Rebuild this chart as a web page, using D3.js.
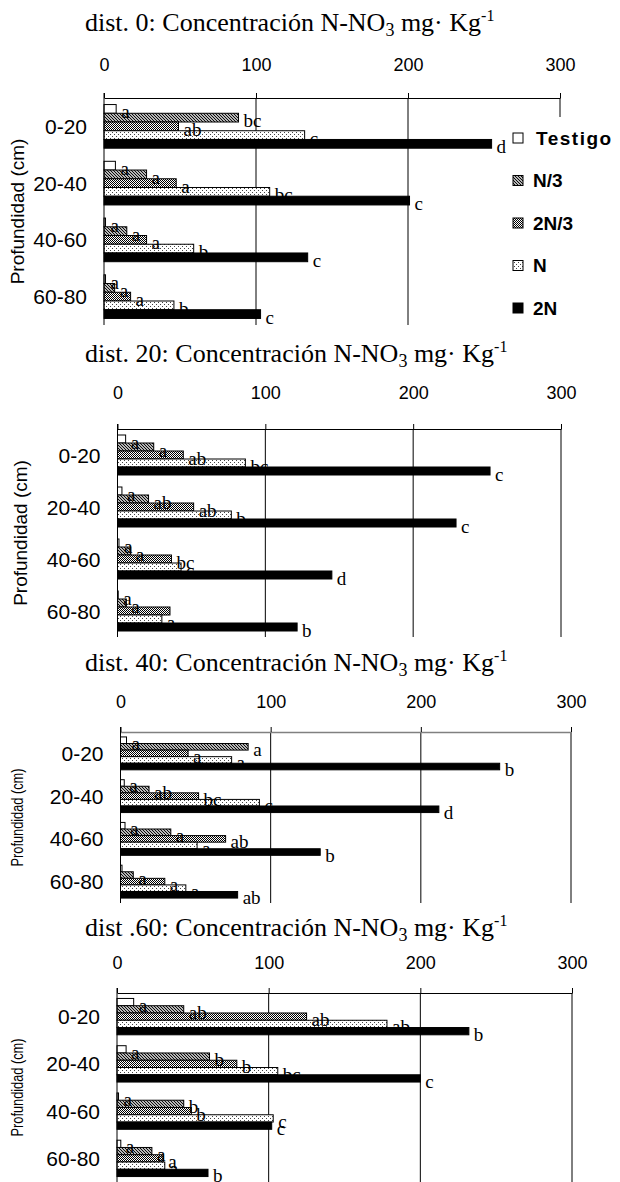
<!DOCTYPE html>
<html lang="es">
<head>
<meta charset="UTF-8">
<title>Concentración N-NO3</title>
<script src="https://d3js.org/d3.v7.min.js"></script>
<style>
  body { margin: 0; background: #fff; }
  svg text { fill: #000; }
</style>
</head>
<body>
<div id="chart"></div>
<script>
// categories and series
const depths = ["0-20", "20-40", "40-60", "60-80"];
const treatments = ["Testigo", "N/3", "2N/3", "N", "2N"];
const tickValues = [0, 100, 200, 300];
const panelNames = ["dist. 0", "dist. 20", "dist. 40", "dist .60"];

// values, one row per treatment (Testigo, N/3, 2N/3, N, 2N), one column per depth
const dist0 = [[8, 7.5, 1, 1], [88.5, 28, 15, 7], [49, 47.5, 28, 17.5], [132, 109, 59, 46], [255, 201, 134, 103]];
const dist20 = [[5.5, 3, 1, 0.5], [24.5, 21, 9, 6], [44.5, 51.5, 36.5, 35.5], [86.5, 77, 43, 30], [252, 229, 145, 121.5]];
const dist40 = [[4, 2.5, 3, 1], [85, 19, 33.5, 8.5], [45, 52, 70, 29.5], [74, 92.5, 51, 43.5], [252.5, 212, 133, 78]];
const dist60 = [[11, 6, 1, 2.5], [44, 61, 44, 23], [125, 79, 49, 30.5], [178, 106, 103, 31.5], [232, 200, 102, 60]];

// significance letters, same layout
const dist0Letters = [["a", "a", "a", "a"], ["bc", "a", "a", "a"], ["ab", "a", "a", "a"], ["c", "bc", "b", "b"], ["d", "c", "c", "c"]];
const dist20Letters = [["a", "a", "a", "a"], ["a", "ab", "a", "a"], ["ab", "ab", "bc", ""], ["bc", "b", "c", "a"], ["c", "c", "d", "b"]];
const dist40Letters = [["a", "a", "a", ""], ["a", "ab", "a", "a"], ["a", "bc", "ab", "a"], ["a", "c", "a", "a"], ["b", "d", "b", "ab"]];
const dist60Letters = [["a", "a", "a", "a"], ["ab", "b", "b", "a"], ["ab", "b", "b", "a"], ["ab", "bc", "c", "a"], ["b", "c", "c", "b"]];

const panelValues = [dist0, dist20, dist40, dist60];
const panelLetters = [dist0Letters, dist20Letters, dist40Letters, dist60Letters];

// page layout
const W = 620, H = 1182;
const layout = [
    { titleY: 31, top: 98, bottom: 325, x0: 104, x1: 560, pad: 22, axisColor: "#000", yLabelX: 18, yLabelSize: 19, yLabelLen: null },
    { titleY: 362, top: 429, bottom: 637, x0: 117.5, x1: 561, pad: 25, axisColor: "#000", yLabelX: 21, yLabelSize: 19, yLabelLen: null },
    { titleY: 671, top: 732, bottom: 903, x0: 120.5, x1: 571, pad: 19, axisColor: "#808080", yLabelX: 17, yLabelSize: 16, yLabelLen: 98 },
    { titleY: 936, top: 993, bottom: 1182, x0: 117, x1: 572, pad: 19, axisColor: "#000", yLabelX: 17, yLabelSize: 16, yLabelLen: 98 }
];

const serif = "'Times New Roman', 'Liberation Serif', serif";
const sans = "Arial, 'Liberation Sans', sans-serif";

const svg = d3.select("#chart").append("svg")
    .attr("width", W)
    .attr("height", H);

// fill patterns
const defs = svg.append("defs");

const pN3 = defs.append("pattern").attr("id", "pat-n3")
    .attr("patternUnits", "userSpaceOnUse").attr("width", 3).attr("height", 3);
pN3.append("rect").attr("width", 3).attr("height", 3).attr("fill", "#fff");
pN3.append("path").attr("d", "M-1,-1 L4,4 M-1,2 L1,4 M2,-1 L4,1")
    .attr("stroke", "#000").attr("stroke-width", 1.1);

const p2N3 = defs.append("pattern").attr("id", "pat-2n3")
    .attr("patternUnits", "userSpaceOnUse").attr("width", 2).attr("height", 2);
p2N3.append("rect").attr("width", 2).attr("height", 2).attr("fill", "#fff");
p2N3.append("rect").attr("width", 1).attr("height", 1).attr("fill", "#000");
p2N3.append("rect").attr("x", 1).attr("y", 1).attr("width", 1).attr("height", 1).attr("fill", "#000");

const pN = defs.append("pattern").attr("id", "pat-n")
    .attr("patternUnits", "userSpaceOnUse").attr("width", 4).attr("height", 4);
pN.append("rect").attr("width", 4).attr("height", 4).attr("fill", "#fff");
pN.append("rect").attr("width", 1).attr("height", 1).attr("fill", "#444");
pN.append("rect").attr("x", 2).attr("y", 2).attr("width", 1).attr("height", 1).attr("fill", "#444");

const fills = ["#fff", "url(#pat-n3)", "url(#pat-2n3)", "url(#pat-n)", "#000"];

function drawPanel(i) {
    const L = layout[i];
    const values = panelValues[i];
    const letters = panelLetters[i];
    const g = svg.append("g");

    // title
    const title = g.append("text")
        .attr("x", 85).attr("y", L.titleY)
        .style("font-family", serif).style("font-size", "26px");
    title.append("tspan").text(panelNames[i] + ": Concentración N-NO");
    title.append("tspan").attr("dy", 5).style("font-size", "18px").text("3");
    title.append("tspan").attr("dy", -5).text(" mg· Kg");
    title.append("tspan").attr("dy", -10).style("font-size", "16px").text("-1");

    const x = d3.scaleLinear().domain([0, 300]).range([L.x0, L.x1]);
    const y = d3.scaleBand().domain(depths).range([L.top, L.bottom]);
    const inner = y.bandwidth() / 1.3;
    const ys = d3.scaleBand().domain(treatments)
        .range([(y.bandwidth() - inner) / 2, (y.bandwidth() + inner) / 2]);

    // vertical gridlines
    g.append("g").selectAll("line")
        .data(tickValues.slice(1))
        .join("line")
        .attr("x1", d => x(d)).attr("x2", d => x(d))
        .attr("y1", L.top).attr("y2", L.bottom)
        .attr("stroke", "#000").attr("stroke-width", 1);

    // top value axis
    const axis = g.append("g")
        .attr("transform", `translate(0,${L.top})`)
        .call(d3.axisTop(x).tickValues(tickValues).tickSize(5).tickSizeOuter(0).tickPadding(L.pad));
    axis.select(".domain").attr("stroke", L.axisColor).attr("stroke-width", i === 2 ? 1.6 : 1);
    axis.selectAll(".tick line").attr("stroke", "#000");
    axis.selectAll(".tick text")
        .style("font-family", sans).style("font-size", "18px").attr("fill", "#000");

    // bars
    treatments.forEach((t, s) => {
        g.append("g").selectAll("rect")
            .data(depths)
            .join("rect")
            .attr("x", x(0))
            .attr("y", d => y(d) + ys(t))
            .attr("width", (d, k) => x(values[s][k]) - x(0))
            .attr("height", ys.bandwidth())
            .attr("fill", fills[s])
            .attr("stroke", "#000")
            .attr("stroke-width", 1);
    });

    // significance letters
    treatments.forEach((t, s) => {
        g.append("g").selectAll("text")
            .data(depths)
            .join("text")
            .attr("x", (d, k) => x(values[s][k]) + 5)
            .attr("y", d => y(d) + ys(t) + ys.bandwidth() / 2)
            .attr("dy", "0.5em")
            .style("font-family", serif).style("font-size", "19px")
            .text((d, k) => letters[s][k]);
    });

    // category axis line
    g.append("line")
        .attr("x1", x(0)).attr("x2", x(0))
        .attr("y1", L.top - 5).attr("y2", L.bottom)
        .attr("stroke", "#000");

    // category labels
    g.append("g").selectAll("text")
        .data(depths)
        .join("text")
        .attr("x", x(0) - 17)
        .attr("y", d => y(d) + y.bandwidth() / 2)
        .attr("dy", "0.36em")
        .attr("text-anchor", "end")
        .style("font-family", sans).style("font-size", "21px")
        .text(d => d);

    // y axis title
    const yt = g.append("text")
        .attr("transform", `translate(${L.yLabelX + 6},${(L.top + L.bottom) / 2}) rotate(-90)`)
        .attr("text-anchor", "middle")
        .style("font-family", sans).style("font-size", L.yLabelSize + "px")
        .text("Profundidad (cm)");
    if (L.yLabelLen) yt.attr("textLength", L.yLabelLen).attr("lengthAdjust", "spacingAndGlyphs");
}

layout.forEach((L, i) => drawPanel(i));

// legend (first panel only), drawn on a white box that hides the 300 gridline
const legend = svg.append("g");
legend.append("rect")
    .attr("x", 508).attr("y", 117).attr("width", 112).attr("height", 210)
    .attr("fill", "#fff");
const legendY = d3.scalePoint().domain(treatments).range([138, 308]);
treatments.forEach((t, s) => {
    legend.append("rect")
        .attr("x", 513).attr("y", legendY(t) - 5)
        .attr("width", 10).attr("height", 10)
        .attr("fill", fills[s]).attr("stroke", "#000");
    legend.append("text")
        .attr("x", t === "Testigo" ? 536 : 533).attr("y", legendY(t))
        .attr("dy", "0.36em")
        .style("font-family", sans).style("font-size", "19px").style("font-weight", "bold")
        .style("letter-spacing", t === "Testigo" ? "1.5px" : "0px")
        .text(t);
});
</script>
</body>
</html>
